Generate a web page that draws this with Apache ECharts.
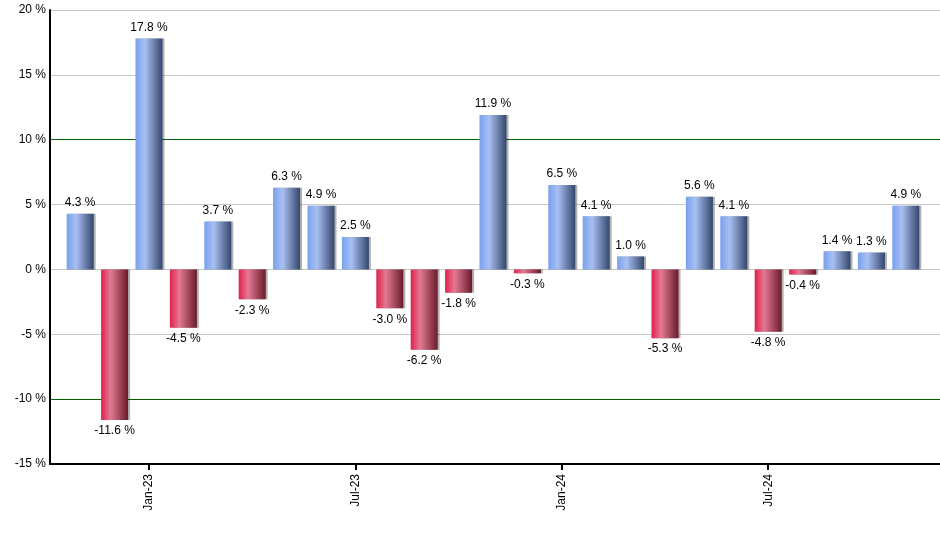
<!DOCTYPE html>
<html>
<head>
<meta charset="utf-8">
<script src="https://cdn.jsdelivr.net/npm/echarts@6/dist/echarts.min.js"></script>
<style>
  html, body { margin: 0; padding: 0; background: #fff; }
  #chart { width: 940px; height: 550px; }
</style>
</head>
<body>
<div id="chart"></div>
<script>
// monthly returns, Nov-22 .. Nov-24
const months = [
  'Nov-22', 'Dec-22', 'Jan-23', 'Feb-23', 'Mar-23', 'Apr-23', 'May-23', 'Jun-23',
  'Jul-23', 'Aug-23', 'Sep-23', 'Oct-23', 'Nov-23', 'Dec-23', 'Jan-24', 'Feb-24',
  'Mar-24', 'Apr-24', 'May-24', 'Jun-24', 'Jul-24', 'Aug-24', 'Sep-24', 'Oct-24', 'Nov-24'
];
const returns = [
  4.3, -11.6, 17.8, -4.5, 3.7, -2.3, 6.3, 4.9, 2.5, -3.0, -6.2, -1.8, 11.9,
  -0.3, 6.5, 4.1, 1.0, -5.3, 5.6, 4.1, -4.8, -0.4, 1.4, 1.3, 4.9
];
const yMin = -15;
const yMax = 20;
const yStep = 5;

const font = 'Liberation Sans, Arial, sans-serif';

const blueFill = new echarts.graphic.LinearGradient(0, 0, 1, 0, [
  { offset: 0, color: '#78a0ee' },
  { offset: 0.35, color: '#a8c0f2' },
  { offset: 1, color: '#34466c' }
]);
const redFill = new echarts.graphic.LinearGradient(0, 0, 1, 0, [
  { offset: 0, color: '#e0204c' },
  { offset: 0.35, color: '#e27a92' },
  { offset: 1, color: '#6a1a2c' }
]);

const showMonth = (idx) => /^(Jan|Jul)/.test(months[idx]);

// gridline colours, one per tick from -15 to 20 (±10 are green)
const splitColors = ['#c8c8c8', '#006400', '#c8c8c8', '#c8c8c8', '#c8c8c8', '#006400', '#c8c8c8', '#c8c8c8'];

const chart = echarts.init(document.getElementById('chart'));
chart.setOption({
  animation: false,
  textStyle: { fontFamily: font },
  grid: [
    { left: 50, right: 0, top: 10, bottom: 86 },
    { left: 63, right: 17, top: 10, bottom: 86 }
  ],
  xAxis: [
    {
      type: 'category',
      gridIndex: 0,
      data: [''],
      axisLine: { show: true, onZero: false, lineStyle: { color: '#000', width: 2 } },
      axisTick: { show: false },
      axisLabel: { show: false },
      splitLine: { show: false }
    },
    {
      type: 'category',
      gridIndex: 1,
      data: months,
      boundaryGap: true,
      axisLine: { show: false, onZero: false },
      axisTick: {
        show: true,
        alignWithLabel: true,
        interval: showMonth,
        length: 6,
        lineStyle: { color: '#000', width: 2 }
      },
      axisLabel: {
        interval: showMonth,
        rotate: 90,
        margin: 10,
        fontSize: 12,
        color: '#000',
        fontFamily: font
      }
    }
  ],
  yAxis: [
    {
      type: 'value',
      gridIndex: 0,
      min: yMin,
      max: yMax,
      interval: yStep,
      axisLine: { show: true, lineStyle: { color: '#000', width: 2 } },
      axisTick: { show: false },
      axisLabel: {
        formatter: '{value} %',
        margin: 4,
        fontSize: 12,
        color: '#000',
        fontFamily: font
      },
      splitLine: { show: true, lineStyle: { color: splitColors, width: 1 } }
    },
    {
      type: 'value',
      gridIndex: 1,
      min: yMin,
      max: yMax,
      interval: yStep,
      show: false,
      splitLine: { show: false }
    }
  ],
  series: [
    {
      type: 'bar',
      xAxisIndex: 1,
      yAxisIndex: 1,
      barWidth: 27,
      data: returns.map(v => ({
        value: v,
        itemStyle: { color: v >= 0 ? blueFill : redFill },
        label: { position: v >= 0 ? 'top' : 'bottom' }
      })),
      itemStyle: {
        shadowColor: 'rgba(0,0,0,0.3)',
        shadowOffsetX: 2,
        shadowOffsetY: 0,
        shadowBlur: 0
      },
      label: {
        show: true,
        distance: 5,
        fontSize: 12,
        color: '#000',
        fontFamily: font,
        formatter: p => p.value.toFixed(1) + ' %'
      }
    }
  ]
});
</script>
</body>
</html>
